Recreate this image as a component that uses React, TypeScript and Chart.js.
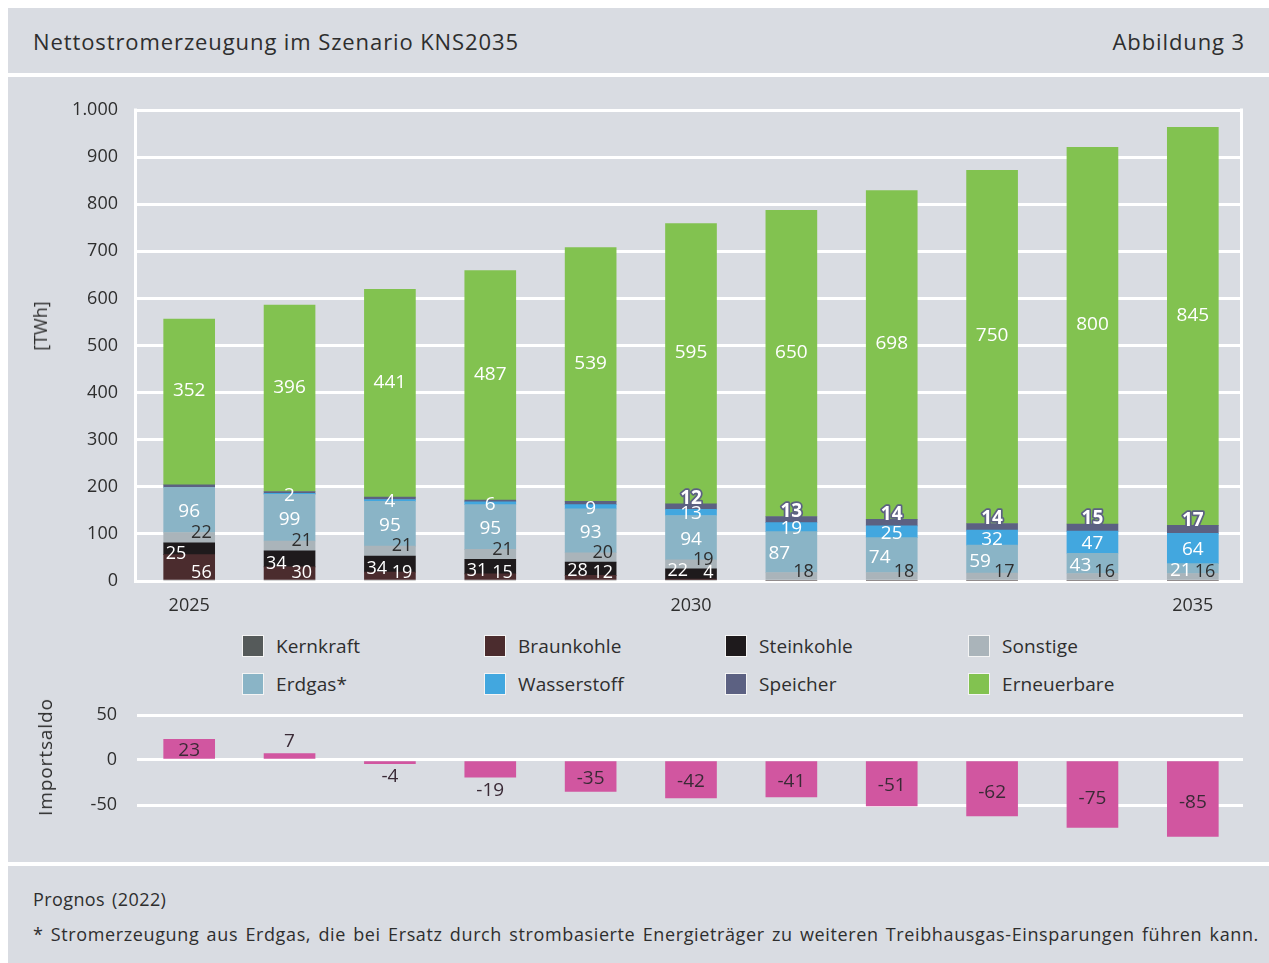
import React, { useEffect, useRef } from "react";
import { Chart, registerables } from "chart.js";

Chart.register(...registerables);

const years = ["2025", "2026", "2027", "2028", "2029", "2030", "2031", "2032", "2033", "2034", "2035"];
const xTickLabels = ["2025", "2030", "2035"];
const kernkraft = [0, 0, 0, 0, 0, 0, 0, 0, 0, 0, 0];
const braunkohle = [56, 30, 19, 15, 12, 4, 0, 0, 0, 0, 0];
const steinkohle = [25, 34, 34, 31, 28, 22, 0, 0, 0, 0, 0];
const sonstige = [22, 21, 21, 21, 20, 19, 18, 18, 17, 16, 16];
const erdgas = [96, 99, 95, 95, 93, 94, 87, 74, 59, 43, 21];
const wasserstoff = [0, 2, 4, 6, 9, 13, 19, 25, 32, 47, 64];
const speicher = [5, 4, 5, 4, 7, 12, 13, 14, 14, 15, 17];
const erneuerbare = [352, 396, 441, 487, 539, 595, 650, 698, 750, 800, 845];
const importsaldo = [23, 7, -4, -19, -35, -42, -41, -51, -62, -75, -85];
const importTicks = [-50, 0, 50];

const FONT = "'Open Sans', sans-serif";
const BG = "#d9dce2";
const TEXT = "#2e2e2e";

const COLORS = {
  kernkraft: "#555a5a",
  braunkohle: "#4b2c2e",
  steinkohle: "#1e1a1c",
  sonstige: "#aab4ba",
  erdgas: "#8ab4c6",
  wasserstoff: "#42a7df",
  speicher: "#5c6182",
  erneuerbare: "#82c250",
  import: "#d156a0",
};

const legendItems = [
  { label: "Kernkraft", color: COLORS.kernkraft },
  { label: "Braunkohle", color: COLORS.braunkohle },
  { label: "Steinkohle", color: COLORS.steinkohle },
  { label: "Sonstige", color: COLORS.sonstige },
  { label: "Erdgas*", color: COLORS.erdgas },
  { label: "Wasserstoff", color: COLORS.wasserstoff },
  { label: "Speicher", color: COLORS.speicher },
  { label: "Erneuerbare", color: COLORS.erneuerbare },
];

type Rule = {
  min: number;
  color: string;
  align: CanvasTextAlign;
  size?: number;
  bold?: boolean;
  stroke?: string;
  pos: (b: { x: number; left: number; right: number; top: number; bottom: number; zero: number; i: number }) => { x: number; y: number };
};

const segLabels = {
  id: "segLabels",
  afterDatasetsDraw(chart: any) {
    const ctx = chart.ctx;
    const zero = chart.scales.y.getPixelForValue(0);
    chart.data.datasets.forEach((ds: any, di: number) => {
      const rule: Rule | undefined = ds.labelRule;
      if (!rule) return;
      const meta = chart.getDatasetMeta(di);
      meta.data.forEach((bar: any, i: number) => {
        const v = ds.data[i];
        if (v == null || Math.abs(v) < rule.min) return;
        const p = bar.getProps(["x", "y", "base", "width"], true);
        const top = Math.min(p.y, p.base);
        const bottom = Math.max(p.y, p.base);
        const pos = rule.pos({ x: p.x, left: p.x - p.width / 2, right: p.x + p.width / 2, top, bottom, zero, i });
        ctx.save();
        ctx.font = `${rule.bold ? "bold " : ""}${rule.size || 19}px ${FONT}`;
        ctx.textAlign = rule.align;
        ctx.textBaseline = "middle";
        if (rule.stroke) {
          ctx.lineWidth = 3.5;
          ctx.lineJoin = "round";
          ctx.strokeStyle = rule.stroke;
          ctx.strokeText(String(v), pos.x, pos.y);
        }
        ctx.fillStyle = rule.color;
        ctx.fillText(String(v), pos.x, pos.y);
        ctx.restore();
      });
    });
  },
};

const framePlugin = {
  id: "frame",
  beforeDatasetsDraw(chart: any) {
    const { left, right, top, bottom } = chart.chartArea;
    const ctx = chart.ctx;
    ctx.save();
    ctx.strokeStyle = "#ffffff";
    ctx.lineWidth = 3;
    ctx.beginPath();
    ctx.moveTo(left - 5 + 1.5, top - 1.5);
    ctx.lineTo(left - 5 + 1.5, bottom + 1.5);
    ctx.moveTo(right - 1.5, top - 1.5);
    ctx.lineTo(right - 1.5, bottom + 1.5);
    ctx.stroke();
    ctx.restore();
  },
};

const importLabels = {
  id: "importLabels",
  afterDatasetsDraw(chart: any) {
    const ctx = chart.ctx;
    const meta = chart.getDatasetMeta(0);
    const ds = chart.data.datasets[0];
    meta.data.forEach((bar: any, i: number) => {
      const v = ds.data[i];
      const p = bar.getProps(["x", "y", "base"], true);
      let y = (p.y + p.base) / 2 + 2 + (v < -60 ? 2 : 0);
      if (Math.abs(v) < 20) {
        y = v >= 0 ? p.y - 12 : p.y + 13;
      }
      ctx.save();
      ctx.font = `19px ${FONT}`;
      ctx.textAlign = "center";
      ctx.textBaseline = "middle";
      ctx.fillStyle = "#3a2a36";
      ctx.fillText(String(v), p.x, y);
      ctx.restore();
    });
  },
};

function fmt(v: number) {
  return v >= 1000 ? `${Math.floor(v / 1000)}.${String(v % 1000).padStart(3, "0")}` : String(v);
}

const noScalePadding = (s: any, w: number) => {
  s.width = w;
  s.paddingTop = 0;
  s.paddingBottom = 0;
};

function MainChart() {
  const ref = useRef<HTMLCanvasElement>(null);
  useEffect(() => {
    const white = "#ffffff";
    const mk = (label: string, data: number[], color: string, labelRule?: Rule) => ({
      label,
      data,
      backgroundColor: color,
      borderWidth: 0,
      barThickness: 51,
      labelRule,
    });
    const chart = new Chart(ref.current!, {
      type: "bar",
      data: {
        labels: years,
        datasets: [
          mk("Kernkraft", kernkraft, COLORS.kernkraft),
          mk("Braunkohle", braunkohle, COLORS.braunkohle, {
            min: 1, color: white, align: "right", size: 18,
            pos: (b) => ({ x: b.right - 3, y: b.zero - 8 }),
          }),
          mk("Steinkohle", steinkohle, COLORS.steinkohle, {
            min: 1, color: white, align: "left", size: 18,
            pos: (b) => ({ x: b.left + 2, y: Math.min((b.top + b.bottom) / 2 + 5, b.zero - 10) }),
          }),
          mk("Sonstige", sonstige, COLORS.sonstige, {
            min: 1, color: TEXT, align: "right", size: 18,
            pos: (b) => ({ x: b.right - 3, y: Math.min(b.top, b.zero - 9) }),
          }),
          mk("Erdgas*", erdgas, COLORS.erdgas, {
            min: 1, color: white, align: "center",
            pos: (b) => ({
              x: b.x + (braunkohle[b.i] + steinkohle[b.i] === 0 ? -12 : 0),
              y: (b.top + b.bottom) / 2 + 2,
            }),
          }),
          mk("Wasserstoff", wasserstoff, COLORS.wasserstoff, {
            min: 1, color: white, align: "center",
            pos: (b) => ({ x: b.x, y: (b.top + b.bottom) / 2 + 1.5 }),
          }),
          mk("Speicher", speicher, COLORS.speicher, {
            min: 10, color: white, align: "center", bold: true, stroke: COLORS.speicher,
            pos: (b) => ({ x: b.x, y: b.top - 5 }),
          }),
          mk("Erneuerbare", erneuerbare, COLORS.erneuerbare, {
            min: 1, color: white, align: "center",
            pos: (b) => ({ x: b.x, y: (b.top + b.bottom) / 2 - 11 }),
          }),
        ],
      },
      options: {
        animation: false,
        responsive: false,
        maintainAspectRatio: false,
        layout: { padding: { top: 30, right: 26, left: 0, bottom: 0 } },
        plugins: { legend: { display: false }, tooltip: { enabled: false } },
        scales: {
          x: {
            stacked: true,
            grid: { display: false, drawTicks: false },
            border: { display: false },
            ticks: {
              autoSkip: false,
              maxRotation: 0,
              padding: 14,
              color: TEXT,
              font: { family: FONT, size: 18 },
              callback: (_v: any, i: number) => (xTickLabels.includes(years[i]) ? years[i] : ""),
            },
            afterFit: (s: any) => {
              s.height = 44;
              s.paddingLeft = 0;
              s.paddingRight = 0;
            },
          },
          y: {
            stacked: true,
            min: 0,
            max: 1000,
            grid: { color: "#ffffff", lineWidth: 3, drawTicks: true, tickLength: 5 },
            border: { display: false },
            ticks: {
              stepSize: 100,
              padding: 16,
              color: TEXT,
              font: { family: FONT, size: 18 },
              callback: (v: any) => fmt(Number(v)),
            },
            afterFit: (s: any) => noScalePadding(s, 131),
          },
        },
      },
      plugins: [framePlugin, segLabels],
    } as any);
    return () => chart.destroy();
  }, []);
  return <canvas ref={ref} width={1261} height={545} style={{ position: "absolute", left: 0, top: 72, width: 1261, height: 545 }} />;
}

function ImportChart() {
  const ref = useRef<HTMLCanvasElement>(null);
  useEffect(() => {
    const chart = new Chart(ref.current!, {
      type: "bar",
      data: {
        labels: years,
        datasets: [
          {
            label: "Importsaldo",
            data: importsaldo,
            backgroundColor: COLORS.import,
            borderWidth: 0,
            barThickness: 51,
          },
        ],
      },
      options: {
        animation: false,
        responsive: false,
        maintainAspectRatio: false,
        layout: { padding: { top: 15, right: 26, left: 0, bottom: 9 } },
        plugins: { legend: { display: false }, tooltip: { enabled: false } },
        scales: {
          x: { display: false },
          y: {
            min: -90,
            max: 50,
            grid: { color: "#ffffff", lineWidth: 3, drawTicks: true, tickLength: 2 },
            border: { display: false },
            afterBuildTicks: (s: any) => {
              s.ticks = importTicks.map((value) => ({ value }));
            },
            ticks: {
              padding: 20,
              color: TEXT,
              font: { family: FONT, size: 18 },
              callback: (v: any) => String(v),
            },
            afterFit: (s: any) => noScalePadding(s, 131),
          },
        },
      },
      plugins: [importLabels],
    } as any);
    return () => chart.destroy();
  }, []);
  return <canvas ref={ref} width={1261} height={150} style={{ position: "absolute", left: 0, top: 692, width: 1261, height: 150 }} />;
}

export default function App() {
  const legendX = [234, 476, 717, 960];
  const legendY = [626, 664];
  return (
    <div style={{ position: "fixed", left: 0, top: 0, width: 1269, height: 963, background: "#ffffff", overflow: "hidden", fontFamily: FONT, color: TEXT }}>
      <div style={{ position: "absolute", left: 8, top: 8, width: 1261, height: 955, background: BG }}>
        <div style={{ position: "absolute", left: 25, top: 18, fontSize: 22, letterSpacing: 0.9, whiteSpace: "nowrap" }}>Nettostromerzeugung im Szenario KNS2035</div>
        <div style={{ position: "absolute", right: 24, top: 18, fontSize: 22, letterSpacing: 0.9, whiteSpace: "nowrap" }}>Abbildung 3</div>
        <div style={{ position: "absolute", left: 0, top: 65, width: 1261, height: 4, background: "#ffffff" }} />
        <MainChart />
        <div style={{ position: "absolute", left: 32, top: 318, transform: "translate(-50%, -50%) rotate(-90deg)", fontSize: 18, whiteSpace: "nowrap" }}>[TWh]</div>
        {legendItems.map((it, k) => {
          const col = k % 4;
          const row = Math.floor(k / 4);
          return (
            <div key={it.label} style={{ position: "absolute", left: legendX[col], top: legendY[row], height: 24, display: "flex", alignItems: "center", whiteSpace: "nowrap" }}>
              <div style={{ width: 20, height: 20, background: it.color, border: "1px solid #f4f4f4", marginRight: 12 }} />
              <span style={{ fontSize: 19, letterSpacing: 0.1 }}>{it.label}</span>
            </div>
          );
        })}
        <ImportChart />
        <div style={{ position: "absolute", left: 37, top: 749, transform: "translate(-50%, -50%) rotate(-90deg)", fontSize: 19, letterSpacing: 0.9, whiteSpace: "nowrap" }}>Importsaldo</div>
        <div style={{ position: "absolute", left: 0, top: 854, width: 1261, height: 4, background: "#ffffff" }} />
        <div style={{ position: "absolute", left: 25, top: 879, fontSize: 18, letterSpacing: 0.4, wordSpacing: 2, whiteSpace: "nowrap" }}>Prognos (2022)</div>
        <div style={{ position: "absolute", left: 25, top: 914, fontSize: 18, letterSpacing: 0.62, wordSpacing: 2, whiteSpace: "nowrap" }}>
          * Stromerzeugung aus Erdgas, die bei Ersatz durch strombasierte Energieträger zu weiteren Treibhausgas-Einsparungen führen kann.
        </div>
      </div>
    </div>
  );
}
